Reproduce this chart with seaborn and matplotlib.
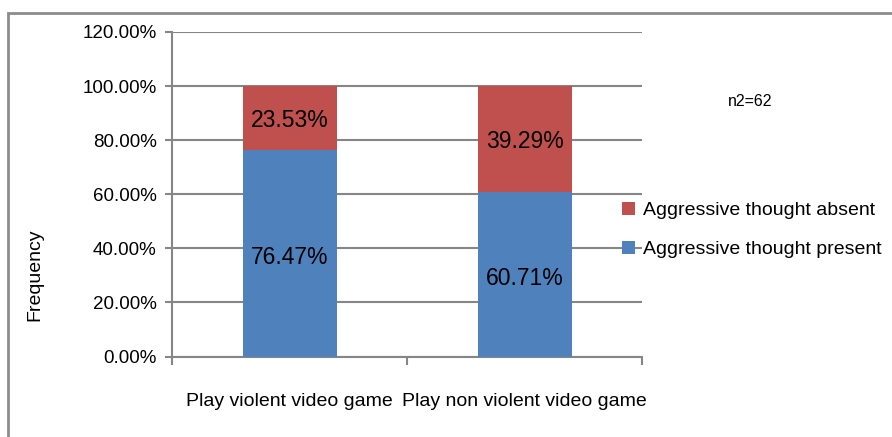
import matplotlib
matplotlib.use("Agg")
import matplotlib.pyplot as plt
import seaborn as sns
import pandas as pd
from matplotlib.patches import Rectangle, Patch
from matplotlib.ticker import FuncFormatter

categories = ["Play violent video game", "Play non violent video game"]
present = [76.47, 60.71]
absent = [23.53, 39.29]
series_names = ["Aggressive thought absent", "Aggressive thought present"]
y_ticks = [0, 20, 40, 60, 80, 100, 120]
note = "n2=62"

sns.set_theme(style="white")
FONT = ["Liberation Sans", "DejaVu Sans"]
plt.rcParams["font.family"] = FONT
plt.rcParams["text.color"] = "black"
plt.rcParams["xtick.color"] = "black"
plt.rcParams["ytick.color"] = "black"

BLUE = "#4F81BD"
RED = "#C0504D"
GRID = "#868686"

df = pd.DataFrame({
    "category": categories,
    "present": [p / 100 for p in present],
    "total": [(p + a) / 100 for p, a in zip(present, absent)],
})

fig = plt.figure(figsize=(8.92, 4.37), dpi=100)
ax = fig.add_axes([172 / 892, 1 - 356.5 / 437, 470 / 892, (356.5 - 32) / 437])

sns.barplot(data=df, x="category", y="total", color=RED, width=0.4,
            saturation=1, ax=ax, zorder=3, linewidth=0, edgecolor="none")
sns.barplot(data=df, x="category", y="present", color=BLUE, width=0.4,
            saturation=1, ax=ax, zorder=4, linewidth=0, edgecolor="none")

ax.set_ylim(0, 1.2)
ax.set_xlim(-0.5, 1.5)
ax.set_yticks([t / 100 for t in y_ticks])
ax.yaxis.set_major_formatter(FuncFormatter(lambda v, _: f"{v * 100:.2f}%"))
ax.grid(axis="y", color=GRID, linewidth=1.5, zorder=0)
ax.set_axisbelow(True)
for s in ["top", "right"]:
    ax.spines[s].set_visible(False)
for s in ["left", "bottom"]:
    ax.spines[s].set_color(GRID)
    ax.spines[s].set_linewidth(1.5)
ax.set_xlabel("")
ax.set_ylabel("")
ax.tick_params(axis="y", which="major", left=True, length=5, width=1.5,
               color=GRID, labelsize=13.5, pad=6, labelcolor="black")
ax.set_xticks([0, 1])
ax.set_xticklabels(categories, fontsize=14)
ax.tick_params(axis="x", which="major", bottom=False, labelsize=14, pad=20,
               labelcolor="black")
ax.set_xticks([-0.5, 0.5, 1.5], minor=True)
ax.tick_params(axis="x", which="minor", bottom=True, length=6, width=1.5,
               color=GRID)

for i, (p, a) in enumerate(zip(present, absent)):
    ax.text(i, p / 200 - 0.015, f"{p:.2f}%", ha="center", va="center",
            fontsize=16.5, color="black", zorder=5)
    ax.text(i, (p + a / 2) / 100 - 0.01, f"{a:.2f}%", ha="center",
            va="center", fontsize=16.5, color="black", zorder=5)

fig.text(35 / 892, 1 - 275 / 437, "Frequency", rotation=90, ha="center",
         va="center", fontsize=14, color="black")
fig.text(750 / 892, 1 - 101 / 437, note, ha="center", va="center",
         fontsize=11.5, color="black")

handles = [Patch(facecolor=RED, edgecolor="none"),
           Patch(facecolor=BLUE, edgecolor="none")]
fig.legend(handles, series_names, loc="upper left",
           bbox_to_anchor=(614 / 892, 1 - 194 / 437), frameon=False,
           fontsize=14, handlelength=0.7, handleheight=0.7,
           handletextpad=0.4, labelspacing=1.1, borderaxespad=0,
           labelcolor="black")

fig.patches.append(Rectangle((8 / 892, -0.2), 1.3, 1.2 - 13 / 437,
                             transform=fig.transFigure, fill=False,
                             edgecolor="#8c8c8c", linewidth=2,
                             clip_on=False))

fig.savefig("out.png", dpi=100)
